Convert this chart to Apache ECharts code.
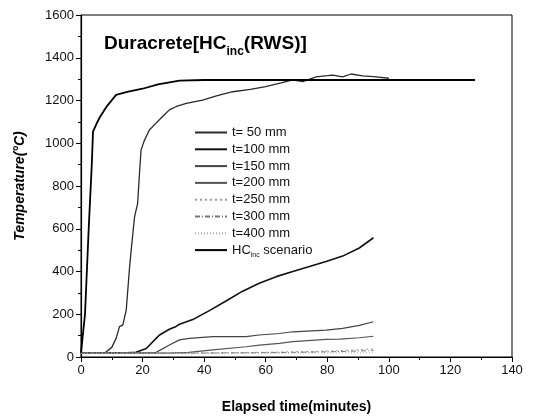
<!DOCTYPE html>
<html>
<head>
<meta charset="utf-8">
<script src="https://cdn.jsdelivr.net/npm/echarts@6/dist/echarts.min.js"></script>
<style>html,body{margin:0;padding:0;background:#fff}#c{width:554px;height:420px}</style>
</head>
<body>
<div id="c"></div>
<script>
// ---- data (minutes, °C) ----
const xTicks = [0, 20, 40, 60, 80, 100, 120, 140];
const yTicks = [0, 200, 400, 600, 800, 1000, 1200, 1400, 1600];

const t50Time = [0, 8, 10, 11.4, 12.5, 13.6, 14.7, 15.7, 16.3, 17.4, 18.4, 19, 19.5, 20.5, 22.2, 24.3, 26.5, 28.7, 31, 34.2, 39.5, 44, 49.3, 55, 60, 65, 68.8, 72, 76.4, 80, 81.8, 85, 87.7, 91.5, 95, 100];
const t50Temp = [20, 22, 45, 87, 142, 150, 220, 407, 500, 656, 719, 860, 968, 1010, 1062, 1093, 1125, 1156, 1172, 1187, 1202, 1222, 1241, 1252, 1265, 1282, 1296, 1288, 1311, 1316, 1319, 1311, 1324, 1315, 1312, 1304];

const t100Time = [0, 15, 17.9, 21.2, 24.4, 25.5, 28.7, 30.9, 32, 36.3, 41.7, 47.1, 52.5, 57.9, 63.4, 68.8, 74.2, 79.6, 85, 90.4, 95];
const t100Temp = [20, 20, 22, 40, 87, 103, 130, 143, 153, 175, 217, 262, 308, 345, 376, 400, 423, 447, 472, 510, 558];

const t150Time = [0, 22, 24.4, 26.5, 28.7, 32, 35.2, 42.8, 47, 53.6, 57.9, 64.4, 68.8, 79.6, 85, 90.4, 95];
const t150Temp = [20, 20, 22, 38, 56, 80, 87, 95, 95, 95, 103, 110, 118, 126, 134, 148, 165];

const t200Time = [0, 28, 35, 42.8, 53.6, 58, 64.4, 68.8, 79.6, 84, 90.4, 95];
const t200Temp = [18, 18, 22, 33, 48, 56, 64, 72, 82, 84, 90, 97];

const t250Time = [0, 30, 45, 60, 75, 85, 95];
const t250Temp = [18, 18, 20, 22, 26, 30, 38];

const t300Time = [0, 35, 50, 65, 80, 95];
const t300Temp = [18, 18, 19, 21, 24, 30];

const t400Time = [0, 40, 60, 80, 95];
const t400Temp = [18, 18, 18, 19, 20];

const hcTime = [0, 0.6, 1.3, 2.5, 3.5, 3.9, 5, 6.2, 8.5, 11.4, 15, 20, 25, 32, 40, 60, 80, 100, 120, 128];
const hcTemp = [20, 20, 200, 600, 900, 1054, 1090, 1124, 1175, 1226, 1240, 1255, 1275, 1293, 1296, 1296, 1296, 1296, 1296, 1296];

const seriesNames = ['t= 50 mm', 't=100 mm', 't=150 mm', 't=200 mm', 't=250 mm', 't=300 mm', 't=400 mm', 'HC_inc scenario'];

function pairs(a, b) { return a.map((v, i) => [v, b[i]]); }

const dataSets = [
  pairs(t50Time, t50Temp), pairs(t100Time, t100Temp), pairs(t150Time, t150Temp),
  pairs(t200Time, t200Temp), pairs(t250Time, t250Temp), pairs(t300Time, t300Temp),
  pairs(t400Time, t400Temp), pairs(hcTime, hcTemp)
];
const styles = [
  {color: '#2a2a2a', width: 1.3, type: 'solid'},
  {color: '#111111', width: 1.6, type: 'solid'},
  {color: '#444444', width: 1.2, type: 'solid'},
  {color: '#555555', width: 1.2, type: 'solid'},
  {color: '#9a9a9a', width: 1, type: [2, 3]},
  {color: '#777777', width: 1, type: [5, 2, 1, 2]},
  {color: '#aaaaaa', width: 1, type: [1, 2]},
  {color: '#000000', width: 1.8, type: 'solid'}
];

const chart = echarts.init(document.getElementById('c'), null, {renderer: 'canvas'});
const font = '"Liberation Sans", Arial, sans-serif';

chart.setOption({
  animation: false,
  backgroundColor: '#fff',
  title: {
    left: 99, top: 29,
    text: '{a|Duracrete[HC}{b|inc}{a|(RWS)]}',
    textStyle: {
      rich: {
        a: {fontFamily: font, fontSize: 19, fontWeight: 'bold', color: '#000', lineHeight: 22, verticalAlign: 'top'},
        b: {fontFamily: font, fontSize: 12, fontWeight: 'bold', color: '#000', padding: [12, 0, 0, 0], verticalAlign: 'top'}
      }
    }
  },
  grid: {left: 81, right: 42, top: 15, bottom: 63, show: true, borderColor: '#000', borderWidth: 1, backgroundColor: 'transparent'},
  legend: {
    show: true,
    orient: 'vertical', left: 189, top: 121,
    itemWidth: 32, itemHeight: 10, itemGap: 3.8,
    itemStyle: {opacity: 0, borderWidth: 0},
    data: seriesNames,
    textStyle: {fontFamily: font, fontSize: 13, color: '#111',
      rich: {n: {fontFamily: font, fontSize: 13, color: '#111'}, s: {fontFamily: font, fontSize: 7, color: '#111', padding: [9, 0, 0, 0]}}},
    formatter: function (n) { return n === 'HC_inc scenario' ? '{n|HC}{s|inc}{n| scenario}' : n; }
  },
  xAxis: {
    type: 'value', min: xTicks[0], max: xTicks[xTicks.length - 1], interval: 20,
    name: 'Elapsed time(minutes)', nameLocation: 'middle', nameGap: 43,
    nameTextStyle: {fontFamily: font, fontSize: 14, fontWeight: 'bold', color: '#000'},
    axisLine: {lineStyle: {color: '#000', width: 1.2}},
    axisTick: {inside: false, length: 5, lineStyle: {color: '#000'}},
    minorTick: {show: true, splitNumber: 2, length: 3, lineStyle: {color: '#000'}},
    splitLine: {show: false},
    axisLabel: {fontFamily: font, fontSize: 13, color: '#111', margin: 7, formatter: v => String(v)}
  },
  yAxis: {
    type: 'value', min: yTicks[0], max: yTicks[yTicks.length - 1], interval: 200,
    name: 'Temperature(°C)', nameLocation: 'middle', nameGap: 54, nameRotate: 90,
    nameTextStyle: {fontFamily: font, fontSize: 14, fontWeight: 'bold', fontStyle: 'italic', color: '#000'},
    axisLine: {lineStyle: {color: '#000', width: 1.2}},
    axisTick: {inside: false, length: 5, lineStyle: {color: '#000'}},
    minorTick: {show: true, splitNumber: 2, length: 3, lineStyle: {color: '#000'}},
    splitLine: {show: false},
    axisLabel: {fontFamily: font, fontSize: 13, color: '#111', margin: 7, formatter: v => String(v)}
  },
  series: seriesNames.map((n, i) => ({
    name: n, type: 'line', data: dataSets[i], showSymbol: false, symbol: 'none', smooth: false,
    lineStyle: styles[i], itemStyle: {color: styles[i].color}, z: i === 7 ? 3 : 2
  }))
});
</script>
</body>
</html>
